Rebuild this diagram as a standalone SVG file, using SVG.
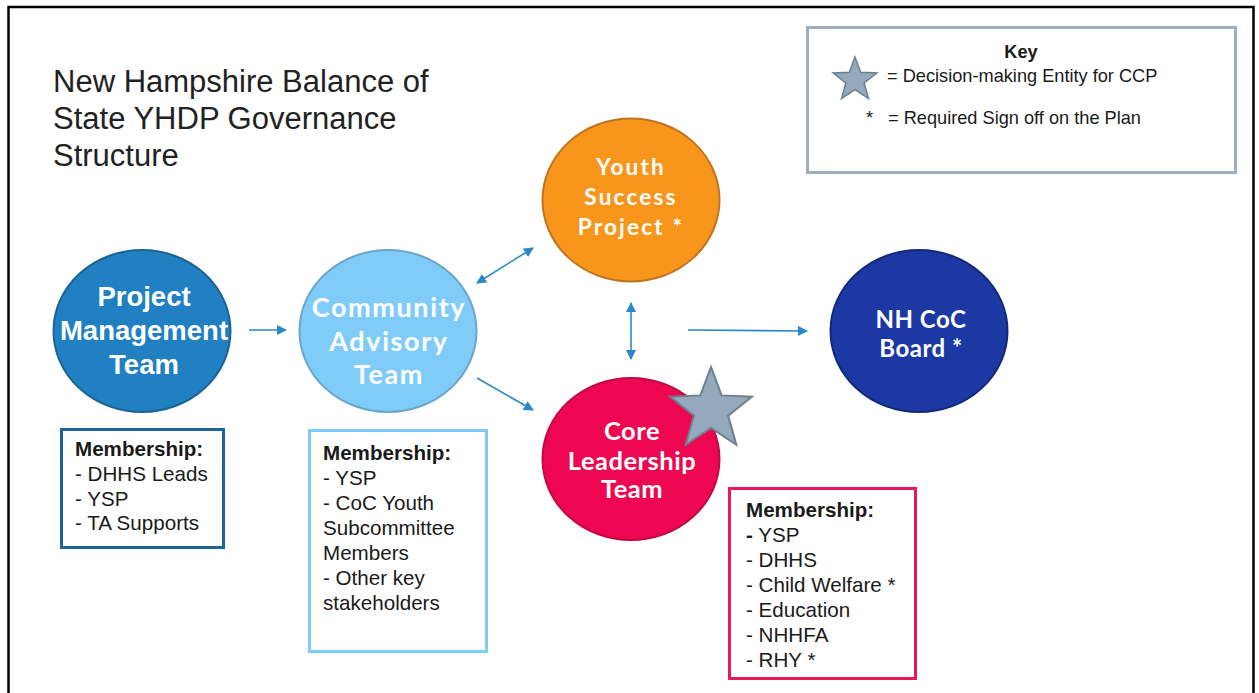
<svg xmlns="http://www.w3.org/2000/svg" width="1259" height="693" viewBox="0 0 1259 693">
<style>
.t{font-family:"Liberation Sans",Arial,sans-serif;fill:#1a1a1a}
.title{font-size:31px;fill:#222}
.m{font-size:20.6px}
.mb{font-size:20.6px;font-weight:bold}
.ct{font-family:"Liberation Sans",Arial,sans-serif;font-weight:bold;fill:#fff;text-anchor:middle}
.lt{font-family:Lato,"Liberation Sans",sans-serif;font-weight:bold;fill:#fff;text-anchor:middle}
.conn line{stroke:#2a88c8;stroke-width:1.6;fill:none}
.key{font-size:18.2px}
</style>
<defs>
<marker id="ah" viewBox="0 0 10 10" refX="9" refY="5" markerWidth="10" markerHeight="10" markerUnits="userSpaceOnUse" orient="auto-start-reverse">
<path d="M0,0 L10,5 L0,10 z" fill="#2a88c8"/>
</marker>
</defs>
<rect x="0" y="0" width="1259" height="693" fill="#fff"/>
<path d="M8.5,700 L8.5,7 L1253.5,7 L1253.5,700" fill="none" stroke="#000" stroke-width="2.5"/>

<g id="title">
<text class="t title" x="53" y="92">New Hampshire Balance of</text>
<text class="t title" x="53" y="129">State YHDP Governance</text>
<text class="t title" x="53" y="166">Structure</text>
</g>

<g id="key">
<rect x="807.5" y="27.5" width="428" height="145" fill="#fff" stroke="#9aafc2" stroke-width="3"/>
<text class="t key" x="1021" y="58" text-anchor="middle" font-weight="bold">Key</text>
<polygon points="855,57 860.7,72.2 876.9,72.9 864.2,83 868.5,98.6 855,89.7 841.5,98.6 845.8,83 833.1,72.9 849.3,72.2" fill="#94a9bc" stroke="#6d7f8f" stroke-width="1.5"/>
<text class="t key" x="887" y="82">= Decision-making Entity for CCP</text>
<text class="t key" x="866" y="124">*</text>
<text class="t key" x="888" y="124">= Required Sign off on the Plan</text>
</g>

<g class="conn" id="connectors">
<line x1="249" y1="330" x2="286" y2="330" marker-end="url(#ah)"/>
<line x1="477" y1="283" x2="533" y2="248" marker-start="url(#ah)" marker-end="url(#ah)"/>
<line x1="477" y1="378" x2="533" y2="410" marker-end="url(#ah)"/>
<line x1="631" y1="303" x2="631" y2="359" marker-start="url(#ah)" marker-end="url(#ah)"/>
<line x1="688" y1="330" x2="807" y2="331" marker-end="url(#ah)"/>
</g>

<g id="pmt">
<ellipse cx="142" cy="331" rx="88.5" ry="81" fill="#2080c2" stroke="#1a6394" stroke-width="2"/>
<text class="ct" x="144" y="306" font-size="27.5">Project</text>
<text class="ct" x="144" y="340" font-size="27.5">Management</text>
<text class="ct" x="144" y="374" font-size="27.5">Team</text>
</g>

<g id="cat">
<ellipse cx="388" cy="331" rx="88.5" ry="81" fill="#80ccf8" stroke="#6aa6ca" stroke-width="2"/>
<text class="lt" x="389" y="317" font-size="27" letter-spacing="1.6">Community</text>
<text class="lt" x="389" y="351" font-size="27" letter-spacing="1.6">Advisory</text>
<text class="lt" x="389" y="384" font-size="27" letter-spacing="1.6">Team</text>
</g>

<g id="ysp">
<ellipse cx="631" cy="200" rx="88.5" ry="81.5" fill="#f8961c" stroke="#c07422" stroke-width="2"/>
<text class="lt" x="631" y="175" font-size="22.5" letter-spacing="2.2">Youth</text>
<text class="lt" x="631" y="205" font-size="22.5" letter-spacing="2.2">Success</text>
<text class="lt" x="631" y="235" font-size="22.5" letter-spacing="2.2">Project *</text>
</g>

<g id="clt">
<ellipse cx="631" cy="459" rx="88.5" ry="81" fill="#ef0650" stroke="#c00a42" stroke-width="2"/>
<text class="lt" x="632" y="440" font-size="25.5" letter-spacing="0.5">Core</text>
<text class="lt" x="632" y="470" font-size="25.5" letter-spacing="0.5">Leadership</text>
<text class="lt" x="632" y="498" font-size="25.5" letter-spacing="0.5">Team</text>
</g>

<g id="star">
<polygon points="711,367 721.6,395.4 751.9,396.7 728.1,415.6 736.3,444.8 711,428 685.7,444.8 693.9,415.6 670.1,396.7 700.4,395.4" fill="#94a9bc" stroke="#6d7f8f" stroke-width="2"/>
</g>

<g id="board">
<ellipse cx="919" cy="331" rx="88.5" ry="81" fill="#1c38a2" stroke="#14287a" stroke-width="2"/>
<text class="lt" x="921" y="328" font-size="24" letter-spacing="0.5">NH CoC</text>
<text class="lt" x="921" y="357" font-size="24" letter-spacing="0.5">Board *</text>
</g>

<g id="mem-pmt">
<rect x="61.5" y="429.5" width="162" height="118" fill="#fff" stroke="#1e6496" stroke-width="3"/>
<text class="t mb" x="75" y="456">Membership:</text>
<text class="t m" x="75" y="481">- DHHS Leads</text>
<text class="t m" x="75" y="506">- YSP</text>
<text class="t m" x="75" y="530">- TA Supports</text>
</g>

<g id="mem-cat">
<rect x="309.5" y="430.5" width="177" height="221" fill="#fff" stroke="#80ccf8" stroke-width="3"/>
<text class="t mb" x="323" y="460">Membership:</text>
<text class="t m" x="323" y="485">- YSP</text>
<text class="t m" x="323" y="510">- CoC Youth</text>
<text class="t m" x="323" y="535">Subcommittee</text>
<text class="t m" x="323" y="560">Members</text>
<text class="t m" x="323" y="585">- Other key</text>
<text class="t m" x="323" y="610">stakeholders</text>
</g>

<g id="mem-clt">
<rect x="729.5" y="488.5" width="186" height="190" fill="#fff" stroke="#e8185a" stroke-width="3"/>
<text class="t mb" x="746" y="517">Membership:</text>
<text class="t m" x="746" y="542"><tspan font-weight="bold">-</tspan> YSP</text>
<text class="t m" x="746" y="567">- DHHS</text>
<text class="t m" x="746" y="592">- Child Welfare *</text>
<text class="t m" x="746" y="617">- Education</text>
<text class="t m" x="746" y="642">- NHHFA</text>
<text class="t m" x="746" y="667">- RHY *</text>
</g>
</svg>
